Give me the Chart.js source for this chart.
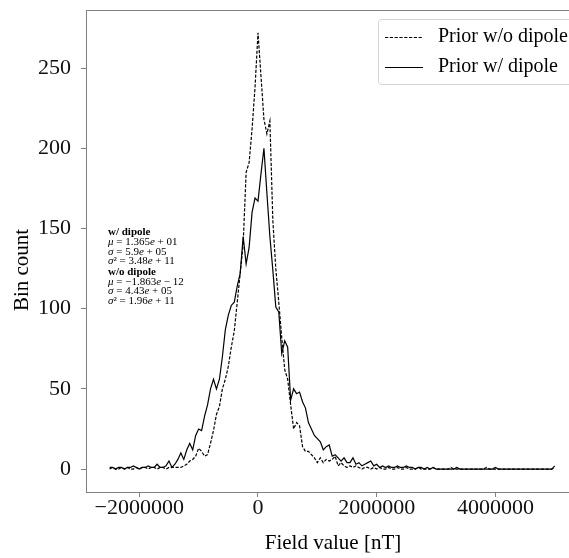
<!DOCTYPE html>
<html>
<head>
<meta charset="utf-8">
<script src="https://cdn.jsdelivr.net/npm/chart.js@4.4.1/dist/chart.umd.min.js"></script>
<style>
  html, body { margin: 0; padding: 0; background: #fff; overflow: hidden; }
</style>
</head>
<body>
<canvas id="histChart" width="569" height="558"></canvas>
<script>
const SERIF = '"Liberation Serif", "DejaVu Serif", serif';

// bin centres in units of 1000 nT
const binCentersK = [
  -2500, -2450, -2400, -2350, -2300, -2250, -2200, -2150, -2100, -2050,
  -2000, -1950, -1900, -1850, -1800, -1750, -1700, -1650, -1600, -1550,
  -1500, -1450, -1400, -1350, -1300, -1250, -1200, -1150, -1100, -1050,
  -1000, -950, -900, -850, -800, -750, -700, -650, -600, -550,
  -500, -450, -400, -350, -300, -250, -200, -150, -100, -50,
  0, 50, 100, 150, 200, 250, 300, 350, 400, 450,
  500, 550, 600, 650, 700, 750, 800, 850, 900, 950,
  1000, 1050, 1100, 1150, 1200, 1250, 1300, 1350, 1400, 1450,
  1500, 1550, 1600, 1650, 1700, 1750, 1800, 1850, 1900, 1950,
  2000, 2050, 2100, 2150, 2200, 2250, 2300, 2350, 2400, 2450,
  2500, 2550, 2600, 2650, 2700, 2750, 2800, 2850, 2900, 2950,
  3000, 3050, 3100, 3150, 3200, 3250, 3300, 3350, 3400, 3450,
  3500, 3550, 3600, 3650, 3700, 3750, 3800, 3850, 3900, 3950,
  4000, 4050, 4100, 4150, 4200, 4250, 4300, 4350, 4400, 4450,
  4500, 4550, 4600, 4650, 4700, 4750, 4800, 4850, 4900, 4950,
  5000,
];

const countsNoDipole = [
  0, 1, 0, 0, 1, 0, 1, 0, 0, 1,
  0, 1, 1, 0, 1, 1, 0, 1, 1, 0,
  1, 1, 1, 1, 1, 2, 3, 5, 6, 8,
  13, 11, 8, 9, 16, 24, 34, 39, 50, 56,
  64, 76, 86, 104, 122, 140, 185, 191, 212, 238,
  272, 245, 218, 209, 217, 155, 125, 104, 82, 62,
  56, 40, 25, 29, 27, 14, 11, 11, 9, 7,
  4, 7, 4, 6, 5, 6, 8, 2, 4, 2,
  1, 2, 1, 2, 1, 0, 1, 1, 0, 1,
  0, 1, 0, 0, 1, 0, 0, 1, 0, 0,
  1, 0, 0, 0, 1, 0, 0, 0, 0, 1,
  0, 0, 0, 0, 0, 1, 0, 0, 0, 0,
  0, 0, 0, 0, 0, 0, 0, 1, 0, 0,
  0, 0, 0, 0, 0, 0, 0, 0, 0, 0,
  0, 0, 0, 0, 0, 0, 0, 0, 0, 0,
  1,
];

const countsDipole = [
  1, 1, 0, 1, 1, 0, 1, 1, 2, 1,
  0, 1, 1, 2, 1, 1, 3, 1, 1, 2,
  5, 1, 3, 6, 10, 6, 12, 16, 12, 21,
  25, 24, 33, 40, 50, 56, 50, 56, 70, 87,
  96, 102, 104, 114, 122, 145, 128, 138, 160, 169,
  167, 184, 200, 172, 145, 124, 101, 98, 72, 80,
  76, 43, 50, 47, 48, 42, 38, 29, 25, 21,
  19, 17, 12, 14, 15, 8, 9, 7, 5, 7,
  4, 4, 7, 3, 4, 2, 3, 4, 5, 2,
  3, 1, 2, 1, 2, 1, 1, 2, 1, 1,
  2, 1, 1, 0, 1, 1, 0, 1, 0, 1,
  0, 0, 0, 0, 0, 0, 0, 1, 0, 0,
  0, 0, 0, 0, 0, 0, 0, 0, 0, 0,
  1, 0, 0, 0, 0, 0, 0, 0, 0, 0,
  0, 0, 0, 0, 0, 0, 0, 0, 0, 0,
  2,
];

const xTicks = [-2000000, 0, 2000000, 4000000];
const yTicks = [0, 50, 100, 150, 200, 250];
const xRange = [-2898000, 5240000];
const yRange = [-14.3, 286.2];

const legendLabels = ["Prior w/o dipole", "Prior w/ dipole"];

// stats box, each line is a list of [text, style]
const statsLines = [
  [["w/ dipole", "b"]],
  [["\u03bc", "i"], [" = 1.365", ""], ["e", "i"], [" + 01", ""]],
  [["\u03c3", "i"], [" = 5.9", ""], ["e", "i"], [" + 05", ""]],
  [["\u03c3", "i"], ["\u00b2 = 3.48", ""], ["e", "i"], [" + 11", ""]],
  [["w/o dipole", "b"]],
  [["\u03bc", "i"], [" = \u22121.863", ""], ["e", "i"], [" \u2212 12", ""]],
  [["\u03c3", "i"], [" = 4.43", ""], ["e", "i"], [" + 05", ""]],
  [["\u03c3", "i"], ["\u00b2 = 1.96", ""], ["e", "i"], [" + 11", ""]],
];
const statsY = [232, 242, 252, 261, 272, 282, 291, 301];

function toPoints(counts) {
  return counts.map((c, i) => ({ x: binCentersK[i] * 1000, y: c }));
}

function fmtTick(v) {
  return v < 0 ? "\u2212" + Math.abs(v) : String(v);
}

const extrasPlugin = {
  id: "extras",
  afterDraw(chart) {
    const ctx = chart.ctx;
    const area = chart.chartArea;
    ctx.save();

    // top spine
    ctx.strokeStyle = "#808080";
    ctx.lineWidth = 1;
    ctx.beginPath();
    ctx.moveTo(area.left, area.top + 0.5);
    ctx.lineTo(area.right, area.top + 0.5);
    ctx.stroke();

    // axis titles
    ctx.fillStyle = "#000";
    ctx.font = "21px " + SERIF;
    ctx.textAlign = "center";
    ctx.textBaseline = "middle";
    ctx.fillText("Field value [nT]", 333, 543);
    ctx.save();
    ctx.translate(22, 270);
    ctx.rotate(-Math.PI / 2);
    ctx.fillText("Bin count", 0, 0);
    ctx.restore();

    // legend
    ctx.font = "20px " + SERIF;
    ctx.fillStyle = "rgba(255,255,255,0.8)";
    ctx.strokeStyle = "#d4d4d4";
    ctx.beginPath();
    ctx.roundRect(378.5, 19.5, 220, 65, 3);
    ctx.fill();
    ctx.stroke();
    ctx.strokeStyle = "#000";
    ctx.lineWidth = 1.2;
    ctx.setLineDash([3.2, 1.6]);
    ctx.beginPath();
    ctx.moveTo(385, 37.5);
    ctx.lineTo(423, 37.5);
    ctx.stroke();
    ctx.setLineDash([]);
    ctx.beginPath();
    ctx.moveTo(385, 67.5);
    ctx.lineTo(423, 67.5);
    ctx.stroke();
    ctx.fillStyle = "#000";
    ctx.textAlign = "left";
    ctx.fillText(legendLabels[0], 438, 37);
    ctx.fillText(legendLabels[1], 438, 67);

    // stats text
    statsLines.forEach((line, k) => {
      let x = 108;
      line.forEach(([txt, style]) => {
        const w = style === "b" ? "bold " : style === "i" ? "italic " : "";
        ctx.font = w + "11px " + SERIF;
        ctx.fillText(txt, x, statsY[k]);
        x += ctx.measureText(txt).width;
      });
    });

    ctx.restore();
  },
};

const axisGrid = {
  display: true,
  drawOnChartArea: false,
  drawTicks: true,
  tickLength: 5,
  color: "#808080",
};

const config = {
  type: "line",
  data: {
    datasets: [
      {
        label: legendLabels[0],
        data: toPoints(countsNoDipole),
        borderColor: "#000",
        borderWidth: 1.2,
        borderDash: [3.2, 1.6],
        pointRadius: 0,
        tension: 0,
      },
      {
        label: legendLabels[1],
        data: toPoints(countsDipole),
        borderColor: "#000",
        borderWidth: 1.2,
        pointRadius: 0,
        tension: 0,
      },
    ],
  },
  options: {
    responsive: false,
    animation: false,
    devicePixelRatio: 1,
    layout: { padding: { top: 10, right: 0, left: 0, bottom: 0 } },
    plugins: {
      legend: { display: false },
      tooltip: { enabled: false },
    },
    scales: {
      x: {
        type: "linear",
        min: xRange[0],
        max: xRange[1],
        afterBuildTicks: (scale) => {
          scale.ticks = xTicks.map((v) => ({ value: v }));
        },
        afterFit: (scale) => {
          scale.height = 66;
          scale.paddingLeft = 0;
          scale.paddingRight = 0;
        },
        ticks: {
          font: { family: SERIF, size: 22, lineHeight: 1 },
          color: "#111",
          padding: 0,
          maxRotation: 0,
          autoSkip: false,
          callback: fmtTick,
        },
        grid: axisGrid,
        border: { display: true, color: "#808080", width: 1 },
      },
      y: {
        type: "linear",
        min: yRange[0],
        max: yRange[1],
        afterBuildTicks: (scale) => {
          scale.ticks = yTicks.map((v) => ({ value: v }));
        },
        afterFit: (scale) => {
          scale.width = 86;
          scale.paddingTop = 0;
          scale.paddingBottom = 0;
        },
        ticks: {
          font: { family: SERIF, size: 22, lineHeight: 1 },
          color: "#111",
          padding: 10,
          autoSkip: false,
          callback: fmtTick,
        },
        grid: axisGrid,
        border: { display: true, color: "#808080", width: 1 },
      },
    },
  },
  plugins: [extrasPlugin],
};

new Chart(document.getElementById("histChart"), config);
</script>
</body>
</html>
